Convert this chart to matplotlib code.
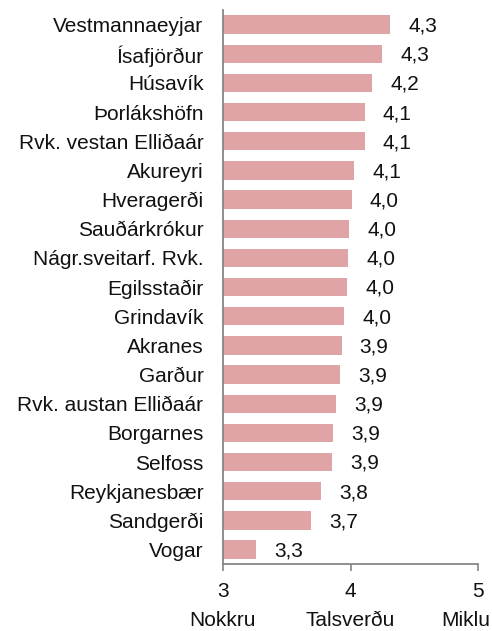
import matplotlib.pyplot as plt

plt.rcParams['font.family'] = ['Liberation Sans', 'DejaVu Sans']

places = ["Vestmannaeyjar", "Ísafjörður", "Húsavík", "Þorlákshöfn",
          "Rvk. vestan Elliðaár", "Akureyri", "Hveragerði", "Sauðárkrókur",
          "Nágr.sveitarf. Rvk.", "Egilsstaðir", "Grindavík", "Akranes",
          "Garður", "Rvk. austan Elliðaár", "Borgarnes", "Selfoss",
          "Reykjanesbær", "Sandgerði", "Vogar"]
values = [4.31, 4.25, 4.17, 4.11, 4.11, 4.03, 4.01, 3.99, 3.98, 3.975,
          3.95, 3.93, 3.915, 3.885, 3.865, 3.857, 3.77, 3.69, 3.26]
value_labels = ["4,3", "4,3", "4,2", "4,1", "4,1", "4,1", "4,0", "4,0", "4,0",
                "4,0", "4,0", "3,9", "3,9", "3,9", "3,9", "3,9", "3,8", "3,7",
                "3,3"]
xticks = [3, 4, 5]
xtick_labels = ["3", "4", "5"]
scale_words = ["Nokkru", "Talsverðu", "Miklu"]

base = 3
fs = 15
bar_color = "#E0A4A6"
axis_color = "#868686"
text_color = "#111111"

fig = plt.figure(figsize=(4.92, 6.31), dpi=100)
ax = fig.add_axes([0.453, 0.106, 0.519, 0.878])

pos = list(range(len(places)))[::-1]
ax.barh(pos, [v - base for v in values], left=base, height=0.63,
        color=bar_color, edgecolor="none")

for y, v, lab in zip(pos, values, value_labels):
    ax.annotate(lab, (v, y), xytext=(13, -1), textcoords="offset points",
                ha="left", va="center", fontsize=fs, color=text_color)

ax.set_xlim(3, 5)
ax.set_ylim(-0.5, len(places) - 0.5)
ax.set_yticks(pos)
ax.set_yticklabels(places, fontsize=fs, color=text_color)
ax.set_xticks(xticks)
ax.set_xticklabels(xtick_labels, fontsize=fs, color=text_color)

# second line of the x tick labels (last one pushed in from the edge)
for i, (x, w) in enumerate(zip(xticks, scale_words)):
    last = i == len(xticks) - 1
    ax.annotate(w, (x, 0), xycoords=("data", "axes fraction"),
                xytext=(9 if last else 0, -34), textcoords="offset points",
                ha="right" if last else "center", va="top",
                fontsize=fs, color=text_color)

ax.tick_params(axis="y", length=0, pad=14)
ax.tick_params(axis="x", length=5, width=1.2, color=axis_color, pad=8)

for side in ["top", "right"]:
    ax.spines[side].set_visible(False)
for side in ["left", "bottom"]:
    ax.spines[side].set_color(axis_color)
    ax.spines[side].set_linewidth(1.3)

fig.savefig("out.png", dpi=100)
